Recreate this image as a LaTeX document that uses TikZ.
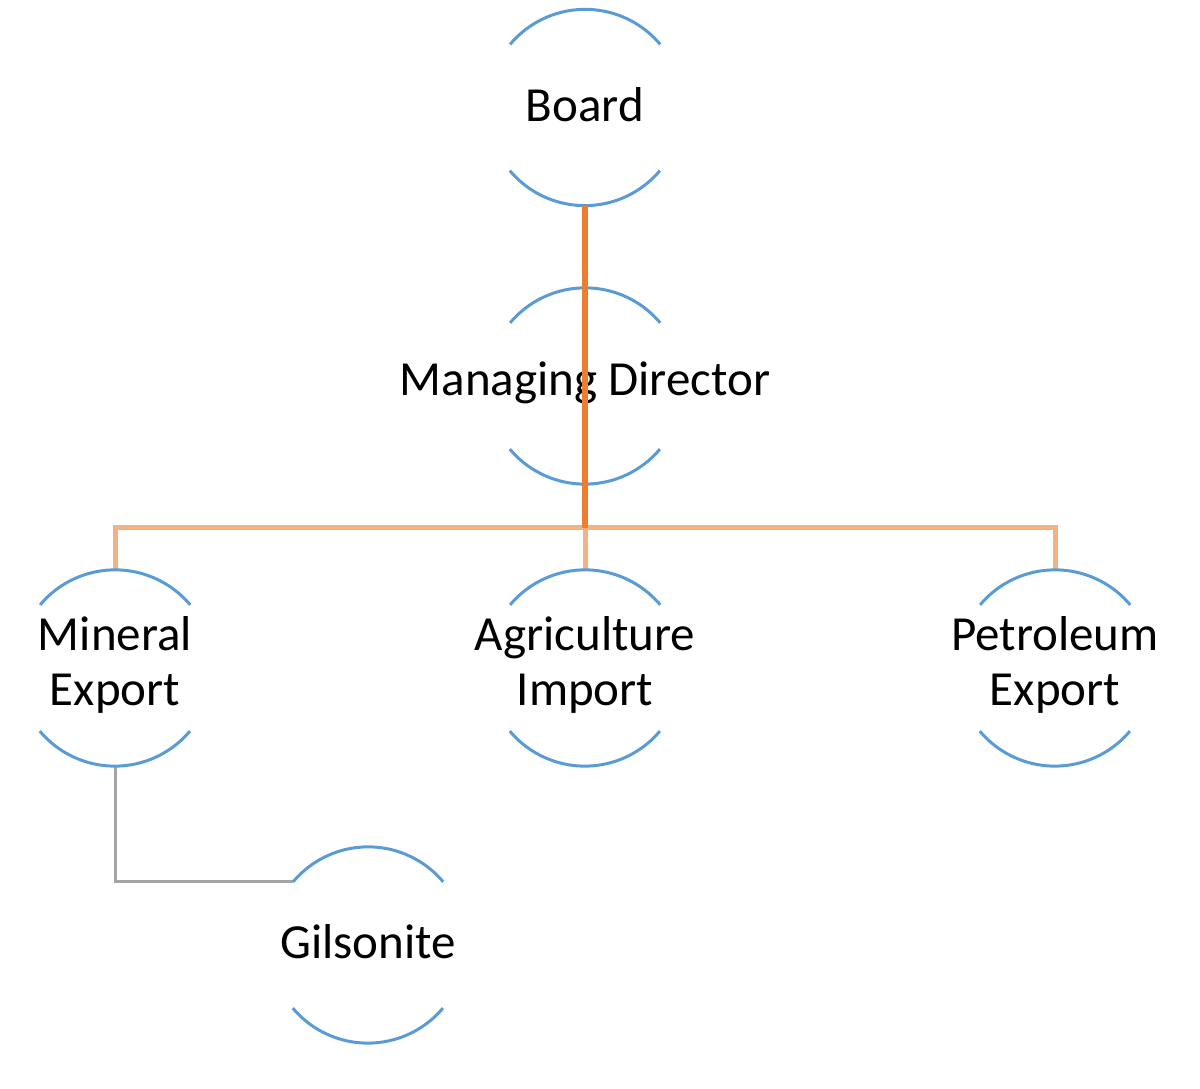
\documentclass[tikz,border=0pt]{standalone}
\usepackage{fontspec}
\setmainfont{Carlito}
\definecolor{arcblue}{HTML}{5B9BD5}
\definecolor{darkor}{HTML}{ED7D31}
\definecolor{lightor}{HTML}{F4B183}
\definecolor{linegray}{HTML}{A5A5A5}
\tikzset{
  orgnode/.style={circle, minimum size=196pt, inner sep=0pt},
  orgtext/.style={align=center, inner sep=0pt, yshift=3pt, font=\fontsize{49}{55}\selectfont},
  arcline/.style={draw=arcblue, line width=3pt},
  mainlink/.style={draw=darkor, line width=5.5pt},
  buslink/.style={draw=lightor, line width=5pt},
  sublink/.style={draw=linegray, line width=3pt},
}
\newcommand{\orgarcs}[1]{%
  \draw[arcline] (#1.40) arc[start angle=40, end angle=140, radius=98pt];
  \draw[arcline] (#1.220) arc[start angle=220, end angle=320, radius=98pt];
}
\begin{document}
\begin{tikzpicture}[x=1pt,y=1pt]
\useasboundingbox (0,0) rectangle (1200,1089);
\node[orgnode, label={[orgtext]center:Board}] (board) at (585,981.5) {};
\node[orgnode, label={[orgtext]center:Managing Director}] (md) at (585,703) {};
\node[orgnode, label={[orgtext]center:Mineral\\Export}] (mineral) at (115,421) {};
\node[orgnode, label={[orgtext]center:Agriculture\\Import}] (agri) at (585,421) {};
\node[orgnode, label={[orgtext]center:Petroleum\\Export}] (petro) at (1055,421) {};
\node[orgnode, label={[orgtext]center:Gilsonite}] (gils) at (368,144) {};
\coordinate (bus) at (585,561);
\draw[buslink] (mineral.north) |- (bus) -| (petro.north);
\draw[buslink] (bus) -- (agri.north);
\draw[sublink] (mineral.south) |- (gils.140);
\orgarcs{board}
\orgarcs{md}
\orgarcs{mineral}
\orgarcs{agri}
\orgarcs{petro}
\orgarcs{gils}
\draw[mainlink] (board.south) -- (bus);
\end{tikzpicture}
\end{document}
